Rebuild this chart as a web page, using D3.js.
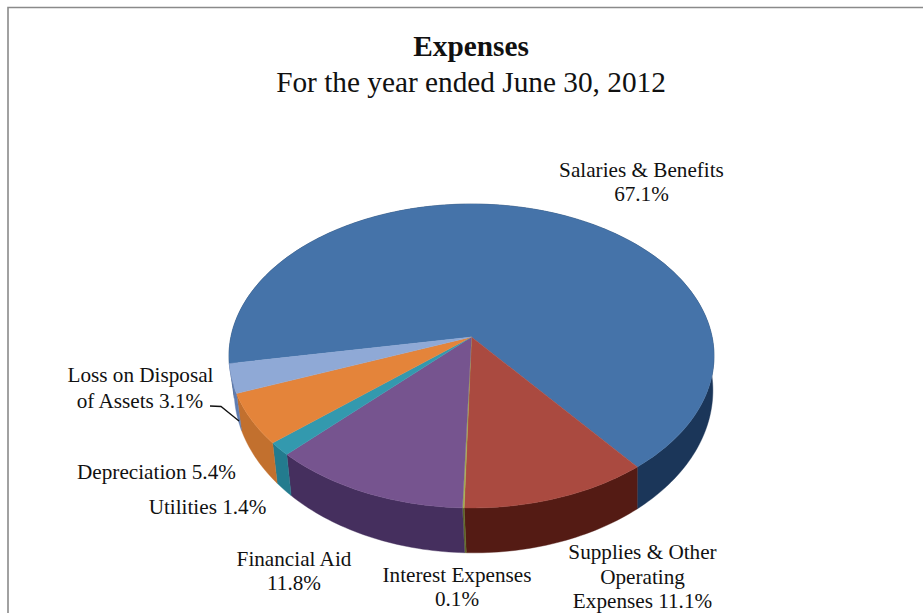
<!DOCTYPE html>
<html>
<head>
<meta charset="utf-8">
<style>
  html, body { margin: 0; padding: 0; background: #fff; }
  svg { display: block; }
  text { font-family: "Liberation Serif", serif; fill: #111; }
</style>
<script src="https://cdnjs.cloudflare.com/ajax/libs/d3/7.9.0/d3.min.js"></script>
</head>
<body>
<svg id="chart" width="923" height="613"></svg>
<script>
// Expense shares, in the order they run clockwise round the pie
const categories = ["Salaries & Benefits", "Supplies & Other Operating Expenses", "Interest Expenses",
                    "Financial Aid", "Utilities", "Depreciation", "Loss on Disposal of Assets"];
const shares = [67.1, 11.1, 0.1, 11.8, 1.4, 5.4, 3.1];
const topColors  = ["#4573a9", "#aa4a40", "#a3b04f", "#76548f", "#3399ae", "#e4843a", "#8fa9d6"];
const sideColors = ["#1b3659", "#541b14", "#5f6a28", "#452f5e", "#237b8e", "#c2702e", "#5f7cb0"];
const titleText = "Expenses";
const subtitleText = "For the year ended June 30, 2012";

// Label lines, anchored by hand around the pie
const labelLines = [
  ["Salaries & Benefits", 641.5, 177], ["67.1%", 641.5, 201],
  ["Supplies & Other", 642.5, 559], ["Operating", 642.5, 584], ["Expenses 11.1%", 642.5, 608],
  ["Interest Expenses", 457, 582], ["0.1%", 457, 606],
  ["Financial Aid", 294, 566], ["11.8%", 294, 590],
  ["Utilities 1.4%", 207.5, 514],
  ["Depreciation 5.4%", 156.5, 479],
  ["Loss on Disposal", 140.5, 382], ["of Assets 3.1%", 140, 408]
];

const svg = d3.select("#chart");
const START = -100 * Math.PI / 180;

// Perspective projection of the tilted disc: the near edge is drawn larger
const TILT = 0.125;
function projector(cx, cy, rx, ry) {
  return a => {
    const u = Math.sin(a), v = -Math.cos(a), w = 1 - TILT * v;
    return [cx + rx * u / w, cy + ry * v / w];
  };
}
const topRim = projector(471.5, 337, 240.6, 149.6);
const lowRim = projector(473.5, 370, 237.5, 160);

const slices = d3.pie().sort(null).startAngle(START).endAngle(START + 2 * Math.PI)(shares);
const line = d3.line();

function arcSamples(slice, rim) {
  const steps = Math.max(2, Math.ceil((slice.endAngle - slice.startAngle) / 0.02));
  return d3.range(steps + 1).map(i =>
    rim(slice.startAngle + (slice.endAngle - slice.startAngle) * i / steps));
}

// Frame: only the top and left rules of the chart box are in view
svg.append("path")
  .attr("d", line([[8, 613], [8, 7.5], [923, 7.5]]))
  .attr("fill", "none").attr("stroke", "#8a8a8a").attr("stroke-width", 1.6);

// Side wall of each slice; the top face covers the parts facing away
svg.append("g").selectAll("path").data(slices).join("path")
  .attr("d", d => line([...arcSamples(d, topRim), ...arcSamples(d, lowRim).reverse()]) + "Z")
  .attr("fill", (d, i) => sideColors[i])
  .attr("stroke", (d, i) => sideColors[i]).attr("stroke-width", 0.4);

// Top face
svg.append("g").selectAll("path").data(slices).join("path")
  .attr("d", d => line([[471.5, 337], ...arcSamples(d, topRim)]) + "Z")
  .attr("fill", (d, i) => topColors[i])
  .attr("stroke", (d, i) => topColors[i]).attr("stroke-width", 0.4);

// Leader for the smallest labelled wedge on the left
svg.append("path")
  .attr("d", line([[210, 406], [221, 406.5], [239, 421]]))
  .attr("fill", "none").attr("stroke", "#111").attr("stroke-width", 1.3);

svg.append("text").attr("x", 471).attr("y", 56).attr("text-anchor", "middle")
  .attr("font-size", 29.3).attr("font-weight", "bold").text(titleText);
svg.append("text").attr("x", 471).attr("y", 92).attr("text-anchor", "middle")
  .attr("font-size", 29.3).text(subtitleText);

svg.append("g").selectAll("text").data(labelLines).join("text")
  .attr("x", d => d[1]).attr("y", d => d[2])
  .attr("text-anchor", "middle").attr("font-size", 21.2)
  .text(d => d[0]);
</script>
</body>
</html>
